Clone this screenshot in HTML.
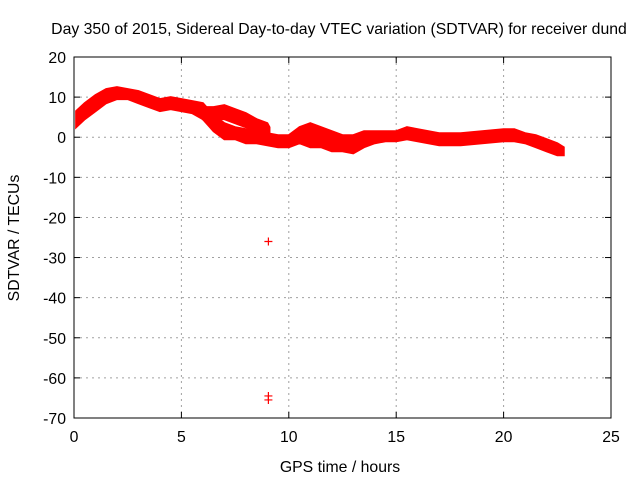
<!DOCTYPE html>
<html><head><meta charset="utf-8"><style>
body{margin:0;background:#fff;width:640px;height:480px;overflow:hidden}
text{font-family:"Liberation Sans",sans-serif;font-size:15.8px;fill:#000}
</style></head><body>
<svg id="chart" width="640" height="480" xmlns="http://www.w3.org/2000/svg"></svg>
<script>
const xTicks=[0,5,10,15,20,25];
const yTicks=[20,10,0,-10,-20,-30,-40,-50,-60,-70];
const mainHours=[0.1,0.5,1,1.5,2,2.5,3,3.5,4,4.5,5,5.5,6,6.5,7,7.5,8,8.5,9,9.5,10,10.5,11,11.5,12,12.5,13,13.5,14,14.5,15,15.5,16,17,18,19,20,20.5,21,21.5,22,22.5,22.8];
const mainUpper=[6.5,8.5,10.5,12,12.5,12,11.5,10.5,9.5,10,9.5,9,8.5,5.5,3.5,2.5,2,1.5,1,0.5,0.5,2.5,3.5,2.5,1.5,0.5,0.5,1.5,1.5,1.5,1.5,2.5,2,1,1,1.5,2,2,1,0.5,-0.5,-1.5,-2.5];
const mainLower=[2.5,4.5,6.5,8.5,9.5,9.5,8.5,7.5,6.5,7,6.5,6,4.5,1.5,-0.5,-0.5,-1.5,-1.5,-2,-2.5,-2.5,-1.5,-2.5,-2.5,-3.5,-3.5,-4,-2.5,-1.5,-1,-1,-0.5,-1,-2,-2,-1.5,-1,-1,-1.5,-2.5,-3.5,-4.5,-4.5];
const branchHours=[6,6.5,7,7.5,8,8.5,9,9.1];
const branchUpper=[7.5,7.5,8,7,6,4.5,3.5,2.5];
const branchLower=[4.5,4.5,4.5,3.5,2.5,1.5,0.5,-0.5];
const outlierHours=[9.05,9.05,9.05];
const outlierValues=[-26,-64.5,-65.5];

const L=74,R=611,T=57,B=418;
const sx=v=>L+(v-0)/(25-0)*(R-L);
const sy=v=>B-(v-(-70))/(20-(-70))*(B-T);
const svg=document.getElementById('chart');
const NS='http://www.w3.org/2000/svg';
function mk(tag,attrs,parent){const e=document.createElementNS(NS,tag);for(const k in attrs)e.setAttribute(k,attrs[k]);(parent||svg).appendChild(e);return e;}

const grid=mk('g',{});


xTicks.forEach(t=>{
  if(t>0&&t<25){const l=mk('line',{x1:sx(t),x2:sx(t),y1:T,y2:B,stroke:'#a0a0a0','stroke-dasharray':'2,4'},grid);
  }
  const tk=mk('line',{x1:sx(t),x2:sx(t),y1:B,y2:B-6,stroke:'#000'});
  
  const tk2=mk('line',{x1:sx(t),x2:sx(t),y1:T,y2:T+6,stroke:'#000'});
  
  const tx=mk('text',{x:sx(t),y:B+24,'text-anchor':'middle'});tx.textContent=t;
  
});
yTicks.forEach(t=>{
  if(t<20&&t>-70){const l=mk('line',{x1:L,x2:R,y1:sy(t),y2:sy(t),stroke:'#a0a0a0','stroke-dasharray':'2,4'},grid);
  }
  const tk=mk('line',{x1:L,x2:L+6,y1:sy(t),y2:sy(t),stroke:'#000'});
  
  const tk2=mk('line',{x1:R,x2:R-6,y1:sy(t),y2:sy(t),stroke:'#000'});
  
  const tx=mk('text',{x:L-8,y:sy(t)+6,'text-anchor':'end'});tx.textContent=t;
  
});
const frame=mk('rect',{x:L,y:T,width:R-L,height:B-T,fill:'none',stroke:'#000'});


function band(h,u,lo,name){
  let d='';
  h.forEach((x,i)=>{d+=(i?'L':'M')+sx(x)+','+sy(u[i]);});
  for(let i=h.length-1;i>=0;i--)d+='L'+sx(h[i])+','+sy(lo[i]);
  const p=mk('path',{d:d+'Z',fill:'#ff0000',stroke:'#ff0000','stroke-width':2,'stroke-linejoin':'miter'});
  
}
band(mainHours,mainUpper,mainLower,'sdtvar-main-band');
band(branchHours,branchUpper,branchLower,'sdtvar-branch-band');

outlierHours.forEach((h,i)=>{
  const x=sx(h),y=sy(outlierValues[i]);
  const g=mk('path',{d:`M${x-4},${y}H${x+4}M${x},${y-4}V${y+4}`,stroke:'#ff0000','stroke-width':1.2});
  
});

const title=mk('text',{x:339,y:34,'text-anchor':'middle'});
title.textContent='Day 350 of 2015, Sidereal Day-to-day VTEC variation (SDTVAR) for receiver dund';

const xl=mk('text',{x:340,y:472,'text-anchor':'middle'});xl.textContent='GPS time / hours';

const yl=mk('text',{x:19,y:238,'text-anchor':'middle',transform:'rotate(-90 19 238)'});yl.textContent='SDTVAR / TECUs';

</script>
</body></html>
